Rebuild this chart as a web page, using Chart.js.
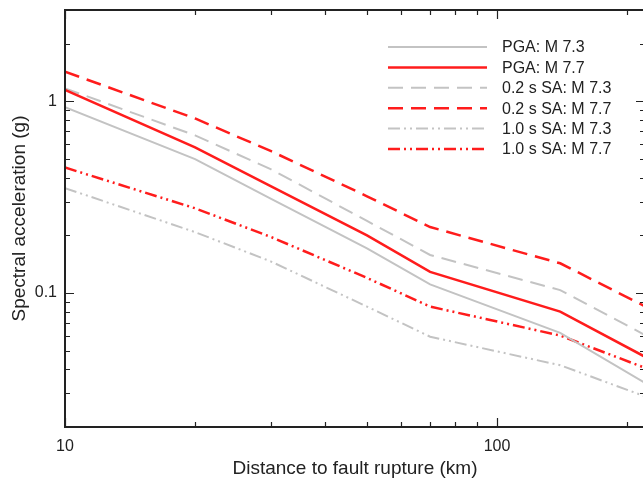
<!DOCTYPE html>
<html>
<head>
<meta charset="utf-8">
<script src="https://cdn.jsdelivr.net/npm/chart.js@4/dist/chart.umd.min.js"></script>
<style>
  body { margin: 0; overflow: hidden; background: #fff; }
  /* plot runs a little past the window so the right frame edge is cut off */
  #wrap { width: 650px; height: 480px; }
</style>
</head>
<body>
<div id="wrap"><canvas id="chart"></canvas></div>
<script>
// Distance to fault rupture (km)
const distances = [10, 20, 30, 50, 70, 140, 220];

// Spectral acceleration (g)
const pgaM73 = [0.934, 0.50, 0.31, 0.171, 0.111, 0.062, 0.034];
const pgaM77 = [1.15, 0.576, 0.36, 0.20, 0.129, 0.080, 0.0465];
const sa02M73 = [1.17, 0.665, 0.442, 0.238, 0.158, 0.1036, 0.0604];
const sa02M77 = [1.43, 0.815, 0.55, 0.32, 0.221, 0.143, 0.0853];
const sa10M73 = [0.353, 0.208, 0.146, 0.085, 0.0592, 0.042, 0.0289];
const sa10M77 = [0.452, 0.277, 0.196, 0.12, 0.085, 0.060, 0.0407];

const seriesNames = [
  "PGA: M 7.3",
  "PGA: M 7.7",
  "0.2 s SA: M 7.3",
  "0.2 s SA: M 7.7",
  "1.0 s SA: M 7.3",
  "1.0 s SA: M 7.7",
];

const GRAY = "#c3c3c3";
const RED = "#ff1c1c";
const TEXT = "#222";
const DASH = [15, 8];
const DASH_DOT_DOT = [12, 4, 2, 4, 2, 4];

Chart.defaults.font.family = "'Liberation Sans', Arial, sans-serif";

function toPoints(vals) {
  return distances.map((d, i) => ({ x: d, y: vals[i] }));
}

function makeSet(label, vals, color, dash, width) {
  return {
    label: label,
    data: toPoints(vals),
    borderColor: color,
    borderWidth: width,
    borderDash: dash,
    pointRadius: 0,
    fill: false,
    tension: 0,
  };
}

// log helpers for the tick marks
function significand(v) {
  const e = Math.floor(Math.log10(v) + 1e-9);
  return v / Math.pow(10, e);
}
function isWhole(v) {
  const s = significand(v);
  return Math.abs(s - Math.round(s)) < 1e-6;
}
function isDecade(v) {
  return Math.abs(significand(v) - 1) < 1e-6;
}

// Frame, inward ticks on all four sides, and the legend
const framePlugin = {
  id: "frame",
  afterDraw(chart) {
    const { ctx, chartArea } = chart;
    const { left, right, top, bottom } = chartArea;
    const xs = chart.scales.x;
    const ys = chart.scales.y;

    ctx.save();
    ctx.strokeStyle = TEXT;
    ctx.lineWidth = 1.2;
    ctx.setLineDash([]);
    ctx.beginPath();
    xs.ticks.forEach((t) => {
      if (!isWhole(t.value)) return;
      const len = isDecade(t.value) ? 9 : 5;
      const px = Math.round(xs.getPixelForValue(t.value)) + 0.5;
      ctx.moveTo(px, bottom);
      ctx.lineTo(px, bottom - len);
      ctx.moveTo(px, top);
      ctx.lineTo(px, top + len);
    });
    ys.ticks.forEach((t) => {
      if (!isWhole(t.value)) return;
      const len = isDecade(t.value) ? 9 : 5;
      const py = Math.round(ys.getPixelForValue(t.value)) + 0.5;
      ctx.moveTo(left, py);
      ctx.lineTo(left + len, py);
      ctx.moveTo(right, py);
      ctx.lineTo(right - len, py);
    });
    ctx.stroke();

    ctx.lineWidth = 2;
    ctx.strokeRect(left, top, right - left, bottom - top);

    // Legend
    const lx0 = 388;
    const lx1 = 487;
    const tx = 502;
    const y0 = 47;
    const step = 20.4;
    ctx.font = "16px 'Liberation Sans', Arial, sans-serif";
    ctx.textAlign = "left";
    ctx.textBaseline = "middle";
    chart.data.datasets.forEach((ds, i) => {
      const y = y0 + i * step;
      ctx.strokeStyle = ds.borderColor;
      ctx.lineWidth = ds.borderWidth;
      ctx.setLineDash(ds.borderDash);
      ctx.beginPath();
      ctx.moveTo(lx0, y);
      ctx.lineTo(lx1, y);
      ctx.stroke();
      ctx.fillStyle = TEXT;
      ctx.fillText(ds.label, tx, y + 1);
    });
    ctx.restore();
  },
};

const ctx = document.getElementById("chart");

new Chart(ctx, {
  type: "line",
  data: {
    datasets: [
      makeSet(seriesNames[0], pgaM73, GRAY, [], 2),
      makeSet(seriesNames[1], pgaM77, RED, [], 2.5),
      makeSet(seriesNames[2], sa02M73, GRAY, DASH, 2),
      makeSet(seriesNames[3], sa02M77, RED, DASH, 2.5),
      makeSet(seriesNames[4], sa10M73, GRAY, DASH_DOT_DOT, 2),
      makeSet(seriesNames[5], sa10M77, RED, DASH_DOT_DOT, 2.5),
    ],
  },
  options: {
    responsive: true,
    maintainAspectRatio: false,
    animation: false,
    layout: { padding: { top: 10, right: 5, left: 0, bottom: 0 } },
    plugins: {
      legend: { display: false },
      tooltip: { enabled: false },
    },
    scales: {
      x: {
        type: "logarithmic",
        min: 10,
        max: 220,
        grid: { display: false, drawTicks: false },
        border: { display: false },
        ticks: {
          autoSkip: false,
          maxRotation: 0,
          padding: 10,
          color: TEXT,
          font: { size: 16 },
          callback: (v) => (isDecade(v) ? String(v) : ""),
        },
        title: {
          display: true,
          text: "Distance to fault rupture (km)",
          color: TEXT,
          font: { size: 19 },
          padding: { top: 0, bottom: 0 },
        },
        afterFit: (s) => {
          s.height = 53;
          s.paddingLeft = 0;
          s.paddingRight = 0;
        },
      },
      y: {
        type: "logarithmic",
        min: 0.02,
        max: 3,
        grid: { display: false, drawTicks: false },
        border: { display: false },
        ticks: {
          autoSkip: false,
          padding: 8,
          color: TEXT,
          font: { size: 16 },
          callback: (v) => (isDecade(v) ? String(v) : ""),
        },
        title: {
          display: true,
          text: "Spectral acceleration (g)",
          color: TEXT,
          font: { size: 19 },
          padding: { top: 8, bottom: 0 },
        },
        afterFit: (s) => {
          s.width = 65;
          s.paddingTop = 0;
          s.paddingBottom = 0;
        },
      },
    },
  },
  plugins: [framePlugin],
});
</script>
</body>
</html>
